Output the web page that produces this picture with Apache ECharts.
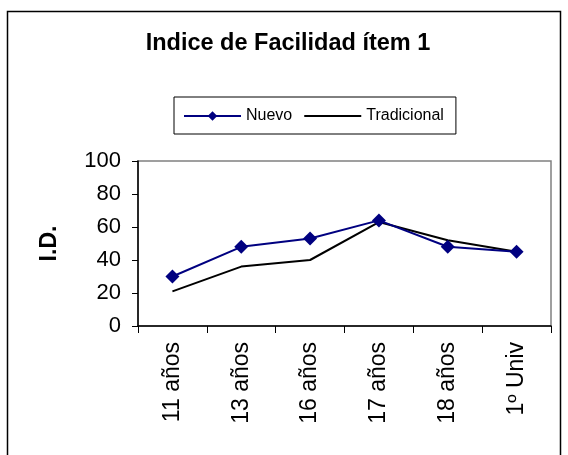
<!DOCTYPE html>
<html>
<head>
<meta charset="utf-8">
<script src="https://cdn.jsdelivr.net/npm/echarts@6/dist/echarts.min.js"></script>
<style>
  html, body { margin: 0; padding: 0; background: #fff; }
  #chart { width: 568px; height: 455px; }
</style>
</head>
<body>
<div id="chart"></div>
<script>
const categories = ["11 años", "13 años", "16 años", "17 años", "18 años", "1º Univ"];
const nuevo = [30, 48, 53, 64, 48, 45];
const tradicional = [21, 36, 40, 63, 52, 45];
const yTicks = { min: 0, max: 100, interval: 20 };

const font = "'Liberation Sans', Arial, sans-serif";
const chart = echarts.init(document.getElementById("chart"));

chart.setOption({
  backgroundColor: "#fff",
  animation: false,
  textStyle: { fontFamily: font },
  graphic: [
    {
      type: "rect",
      shape: { x: 7.5, y: 11.5, width: 553, height: 470 },
      style: { fill: "none", stroke: "#000", lineWidth: 1.5 },
      silent: true
    }
  ],
  title: {
    text: "Indice de Facilidad ítem 1",
    left: 283,
    textAlign: "center",
    top: 27,
    textStyle: { fontFamily: font, fontSize: 23.5, fontWeight: "bold", color: "#000" }
  },
  legend: {
    left: 174,
    top: 97,
    padding: [11, 12, 10, 9],
    itemGap: 11,
    itemWidth: 57,
    itemHeight: 12,
    borderColor: "#000",
    borderWidth: 1,
    textStyle: { fontFamily: font, fontSize: 16, color: "#000" },
    data: [
      { name: "Nuevo" },
      { name: "Tradicional", itemStyle: { opacity: 0 } }
    ]
  },
  grid: {
    left: 138,
    right: 17,
    top: 161,
    bottom: 129,
    show: true,
    borderColor: "#808080",
    borderWidth: 1.5
  },
  xAxis: {
    type: "category",
    data: categories,
    boundaryGap: true,
    axisLine: { lineStyle: { color: "#000", width: 1.5 } },
    axisTick: { show: true, alignWithLabel: false, length: 7, lineStyle: { color: "#000", width: 1 } },
    axisLabel: { rotate: 90, fontFamily: font, fontSize: 23, color: "#000", margin: 16, interval: 0 },
    splitLine: { show: false }
  },
  yAxis: {
    type: "value",
    min: yTicks.min,
    max: yTicks.max,
    interval: yTicks.interval,
    name: "I.D.",
    nameLocation: "middle",
    nameRotate: 90,
    nameGap: 77,
    nameTextStyle: { fontFamily: font, fontSize: 23, fontWeight: "bold", color: "#000" },
    axisLine: { show: true, lineStyle: { color: "#000", width: 1.5 } },
    axisTick: { show: true, length: 6, lineStyle: { color: "#000", width: 1 } },
    axisLabel: { fontFamily: font, fontSize: 22, color: "#000", margin: 17 },
    splitLine: { show: false }
  },
  series: [
    {
      name: "Nuevo",
      type: "line",
      data: nuevo,
      symbol: "diamond",
      symbolSize: 14,
      itemStyle: { color: "#000080" },
      lineStyle: { color: "#000080", width: 2 },
      z: 3
    },
    {
      name: "Tradicional",
      type: "line",
      data: tradicional,
      symbol: "none",
      itemStyle: { color: "#000" },
      lineStyle: { color: "#000", width: 2 },
      z: 2
    }
  ]
});
</script>
</body>
</html>
